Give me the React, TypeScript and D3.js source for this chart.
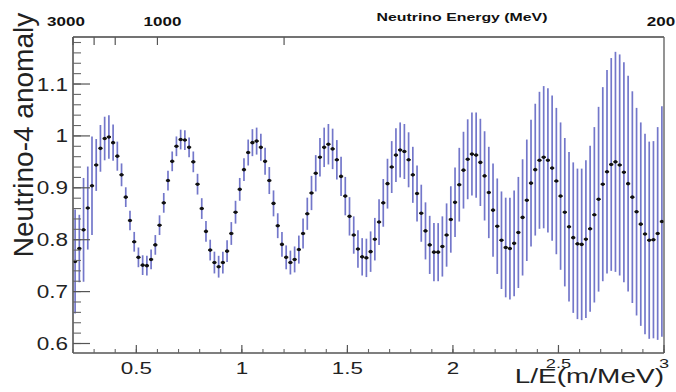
import React from "react";
import * as d3 from "d3";

// Neutrino-4 anomaly vs L/E, bins of 0.02 m/MeV starting at 0.20
const binStart = 0.2;
const binWidth = 0.02;

const values: number[] = [
  0.758, 0.783, 0.819, 0.861, 0.904, 0.944, 0.976, 0.995, 0.998, 0.987,
  0.961, 0.925, 0.882, 0.837, 0.796, 0.766, 0.751, 0.750, 0.762, 0.790,
  0.828, 0.871, 0.914, 0.951, 0.980, 0.993, 0.992, 0.978, 0.950, 0.907,
  0.860, 0.816, 0.780, 0.756, 0.748, 0.756, 0.778, 0.812, 0.853, 0.897,
  0.935, 0.968, 0.987, 0.990, 0.978, 0.951, 0.914, 0.870, 0.827, 0.791,
  0.766, 0.756, 0.762, 0.781, 0.812, 0.850, 0.890, 0.928, 0.959, 0.978,
  0.984, 0.975, 0.954, 0.922, 0.884, 0.845, 0.809, 0.782, 0.767, 0.765,
  0.777, 0.801, 0.834, 0.871, 0.908, 0.940, 0.963, 0.973, 0.970, 0.954,
  0.925, 0.889, 0.851, 0.817, 0.790, 0.776, 0.776, 0.787, 0.809, 0.839,
  0.872, 0.906, 0.934, 0.955, 0.965, 0.963, 0.949, 0.923, 0.891, 0.857,
  0.826, 0.799, 0.785, 0.783, 0.793, 0.814, 0.843, 0.876, 0.909, 0.935,
  0.953, 0.959, 0.953, 0.938, 0.913, 0.884, 0.853, 0.825, 0.804, 0.792,
  0.791, 0.801, 0.821, 0.848, 0.878, 0.907, 0.931, 0.945, 0.950, 0.944,
  0.930, 0.908, 0.882, 0.854, 0.830, 0.811, 0.799, 0.800, 0.812, 0.835,
];

const errors: number[] = [
  0.100, 0.065, 0.100, 0.080, 0.095, 0.050, 0.045, 0.042, 0.042, 0.035,
  0.028, 0.022, 0.019, 0.019, 0.019, 0.019, 0.019, 0.019, 0.019, 0.019,
  0.019, 0.019, 0.019, 0.019, 0.019, 0.019, 0.019, 0.019, 0.020, 0.020,
  0.020, 0.020, 0.020, 0.021, 0.021, 0.021, 0.021, 0.022, 0.022, 0.022,
  0.022, 0.025, 0.026, 0.026, 0.026, 0.026, 0.026, 0.025, 0.024, 0.024,
  0.023, 0.023, 0.025, 0.027, 0.029, 0.031, 0.033, 0.035, 0.037, 0.038,
  0.039, 0.039, 0.038, 0.038, 0.037, 0.037, 0.036, 0.036, 0.036, 0.037,
  0.039, 0.041, 0.044, 0.046, 0.048, 0.050, 0.052, 0.053, 0.053, 0.053,
  0.054, 0.054, 0.055, 0.055, 0.056, 0.056, 0.056, 0.058, 0.061, 0.064,
  0.067, 0.071, 0.074, 0.077, 0.080, 0.082, 0.084, 0.086, 0.088, 0.090,
  0.092, 0.094, 0.096, 0.098, 0.102, 0.107, 0.112, 0.117, 0.122, 0.127,
  0.132, 0.137, 0.139, 0.140, 0.141, 0.142, 0.143, 0.144, 0.145, 0.145,
  0.146, 0.152, 0.160, 0.169, 0.178, 0.187, 0.196, 0.205, 0.212, 0.213,
  0.212, 0.208, 0.204, 0.200, 0.196, 0.193, 0.190, 0.190, 0.205, 0.222,
];

const xDomain: [number, number] = [0.2, 3.0];
const yDomain: [number, number] = [0.5817, 1.1906];
const yMajorTicks = [0.6, 0.7, 0.8, 0.9, 1, 1.1];
const yTickLabels = ["0.6", "0.7", "0.8", "0.9", "1", "1.1"];
const xMajorTicks = [0.5, 1, 1.5, 2, 2.5, 3];
const xTickLabels = ["0.5", "1", "1.5", "2", "2.5", "3"];
const energyTicks = [3000, 2000, 1500, 1000, 500];
const energyLabels = [3000, 1000, 200];
const baselineL = 600; // L/E = 600 / E

const W = 676;
const H = 392;
const FONT = "'Liberation Sans', Arial, Helvetica, sans-serif";

export default function App() {
  const left = 73, right = 664, top = 37, bottom = 353;
  const x = d3.scaleLinear().domain(xDomain).range([left, right]);
  const y = d3.scaleLinear().domain(yDomain).range([bottom, top]);
  const xMinor = x.ticks(28);
  const yMinor = y.ticks(30);
  const centers = values.map((_, i) => binStart + binWidth * (i + 0.5));
  const ex = (e: number) => x(baselineL / e);
  const energyDx = (e: number) => (e === 3000 ? -7 : e === 1000 ? 5 : -3);

  const barColor = "#6468c4";

  return (
    <svg
      width={W}
      height={H}
      style={{ position: "absolute", left: 0, top: 0, background: "#fff" }}
      fontFamily={FONT}
    >
      <defs>
        <clipPath id="plotClip">
          <rect x={left} y={top} width={right - left} height={bottom - top} />
        </clipPath>
      </defs>
      <rect x={0} y={0} width={W} height={H} fill="#fff" />

      {/* error bars and markers */}
      <g clipPath="url(#plotClip)">
        {values.map((v, i) => (
          <line
            key={"e" + i}
            x1={x(centers[i])}
            x2={x(centers[i])}
            y1={y(v - errors[i])}
            y2={y(v + errors[i])}
            stroke={barColor}
            strokeWidth={1.7}
            strokeOpacity={0.9}
          />
        ))}
        {values.map((v, i) => (
          <g key={"m" + i}>
            <line
              x1={x(centers[i] - binWidth / 2)}
              x2={x(centers[i] + binWidth / 2)}
              y1={y(v)}
              y2={y(v)}
              stroke="#111"
              strokeWidth={1.6}
            />
            <circle cx={x(centers[i])} cy={y(v)} r={1.8} fill="#111" />
          </g>
        ))}
      </g>

      {/* frame */}
      <line x1={left} x2={right} y1={top} y2={top} stroke="#444" strokeWidth={1.6} />
      <line x1={right} x2={right} y1={top} y2={bottom} stroke="#666" strokeWidth={1.4} />
      <line x1={left} x2={left} y1={top} y2={bottom} stroke="#555" strokeWidth={1.6} />
      <line x1={left} x2={right} y1={bottom} y2={bottom} stroke="#555" strokeWidth={1.6} />

      {/* y ticks */}
      {yMinor.map((t) => (
        <line key={"ym" + t} x1={left} x2={left + 8} y1={y(t)} y2={y(t)} stroke="#666" strokeWidth={1.1} />
      ))}
      {yMajorTicks.map((t) => (
        <line key={"yM" + t} x1={left} x2={left + 17} y1={y(t)} y2={y(t)} stroke="#555" strokeWidth={1.2} />
      ))}
      {yMajorTicks.map((t, i) => (
        <text
          key={"yl" + t}
          transform={`translate(${left - 5},${y(t)}) scale(1.25,1)`}
          textAnchor="end"
          dy="0.36em"
          fontSize={18}
          fill="#222"
        >
          {yTickLabels[i]}
        </text>
      ))}

      {/* x ticks */}
      {xMinor.map((t) => (
        <line key={"xm" + t} x1={x(t)} x2={x(t)} y1={bottom} y2={bottom - 4} stroke="#666" strokeWidth={1.1} />
      ))}
      {xMajorTicks.map((t) => (
        <line key={"xM" + t} x1={x(t)} x2={x(t)} y1={bottom} y2={bottom - 8} stroke="#555" strokeWidth={1.2} />
      ))}
      {xMajorTicks.map((t, i) => (
        <text
          key={"xl" + t}
          transform={`translate(${x(t)},${t >= 2.5 ? 368 : 373.5}) scale(1.4,1)`}
          textAnchor="middle"
          fontSize={t >= 2.5 ? 13 : 16}
          fill="#222"
        >
          {xTickLabels[i]}
        </text>
      ))}

      {/* top energy axis */}
      {energyTicks.map((e) => (
        <line key={"et" + e} x1={ex(e)} x2={ex(e)} y1={top} y2={top + 8} stroke="#555" strokeWidth={1.2} />
      ))}
      {energyLabels.map((e) => (
        <text
          key={"el" + e}
          transform={`translate(${ex(e) + energyDx(e)},26) scale(1.36,1)`}
          textAnchor="middle"
          fontSize={12.5}
          fontWeight="bold"
          fill="#111"
        >
          {e}
        </text>
      ))}
      <text
        transform="translate(462,21) scale(1.38,1)"
        textAnchor="middle"
        fontSize={11.5}
        fontWeight="bold"
        fill="#111"
      >
        Neutrino Energy (MeV)
      </text>

      {/* axis titles */}
      <text
        transform="translate(33,135) rotate(-90)"
        textAnchor="middle"
        fontSize={28}
        fill="#222"
      >
        Neutrino-4 anomaly
      </text>
      <text
        transform={`translate(${right},383) scale(1.4,1)`}
        textAnchor="end"
        fontSize={20}
        fill="#222"
      >
        L/E(m/MeV)
      </text>
    </svg>
  );
}
